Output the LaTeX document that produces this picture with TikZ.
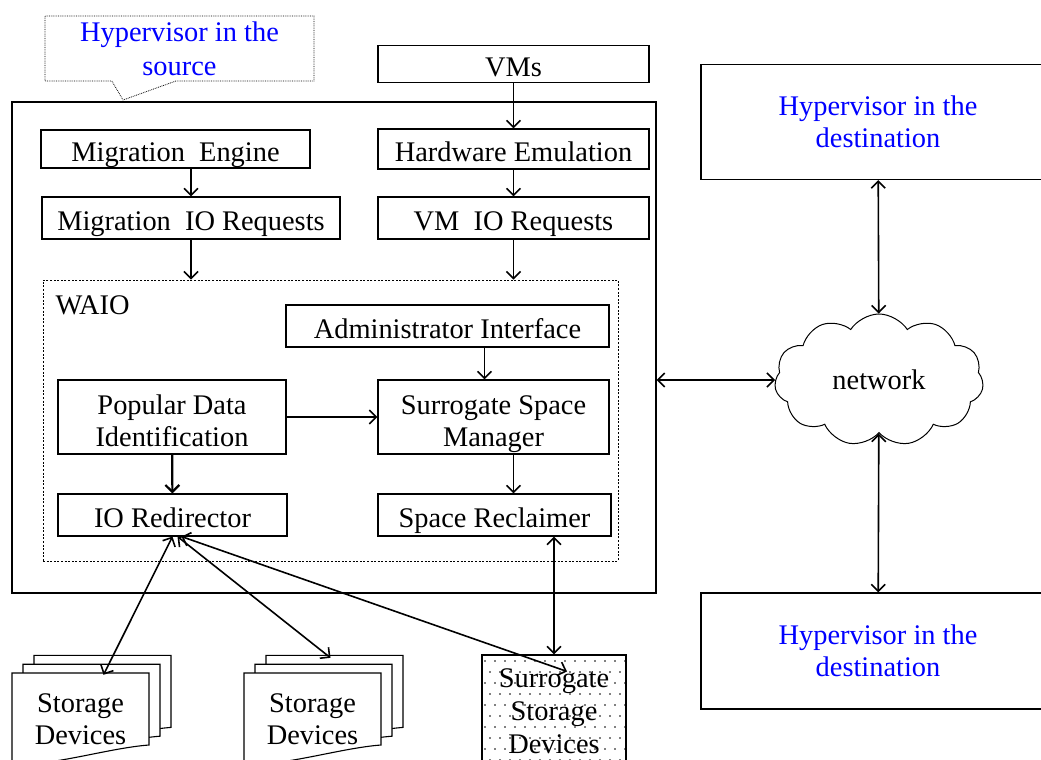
\documentclass[tikz,border=0pt]{standalone}
\usepackage{fontspec}
\setmainfont{Liberation Serif}
\usetikzlibrary{arrows.meta,shapes.symbols,shapes.callouts}

\begin{document}
\begin{tikzpicture}[x=1pt,y=-1pt,
	% Define styles for the boxes and the arrows
	box/.style={draw, line width=1.1pt, rectangle, inner sep=0pt, align=center, font=\fontsize{28.4}{32}\selectfont},
	onebox/.style={box, text height=25pt, text depth=0pt},
	twobox/.style={box, text height=58pt, text depth=0pt},
	bluebox/.style={box, text=blue},
	frame/.style={draw, line width=1.1pt, rectangle, inner sep=0pt},
	waioframe/.style={draw, line width=0.8pt, dash pattern=on 2pt off 1.6pt, rectangle, inner sep=0pt},
	page/.style={draw, fill=white, line width=1.1pt},
	arr/.style={-{Straight Barb[length=7pt,width=14pt]}, line width=1.6pt},
	dbl/.style={{Straight Barb[length=7pt,width=14pt]}-{Straight Barb[length=7pt,width=14pt]}, line width=1.6pt}
	]
	\useasboundingbox (0,0) rectangle (1041,760);
	
	% Frames of the source hypervisor and of WAIO
	\node[frame, minimum width=644, minimum height=491] (src) at (334,347.5) {};
	\node[waioframe, minimum width=575, minimum height=281] (waio) at (330.5,420.5) {};
	\node[anchor=west, font=\fontsize{28.4}{32}\selectfont] (waiolbl) at (52,305) {WAIO};
	
	% Callout above the source
	\node[rectangle callout, draw, densely dotted, line width=0.8pt, minimum width=269, minimum height=65,
	callout absolute pointer={(123,100)}, callout pointer width=64pt, align=center, text=blue,
	font=\fontsize{28.4}{33}\selectfont, text height=53pt, text depth=0pt] (srclbl) at (179.5,48.5) {Hypervisor in the\\source};
	
	% Boxes in the source
	\node[onebox, minimum width=271, minimum height=37] (vms) at (513.5,64) {VMs};
	\node[onebox, minimum width=269, minimum height=38] (me) at (175.5,149) {Migration~ Engine};
	\node[onebox, minimum width=271, minimum height=40] (hw) at (513.5,149) {Hardware Emulation};
	\node[onebox, minimum width=298, minimum height=42] (mio) at (191,218) {Migration~ IO Requests};
	\node[onebox, minimum width=271, minimum height=42] (vmio) at (513.5,218) {VM~ IO Requests};
	\node[onebox, minimum width=323, minimum height=42] (admin) at (447.5,326) {Administrator Interface};
	\node[twobox, minimum width=228, minimum height=74] (pdi) at (172,417) {Popular Data\\Identification};
	\node[twobox, minimum width=231, minimum height=74] (ssm) at (493.5,417) {Surrogate Space\\Manager};
	\node[onebox, minimum width=229, minimum height=42] (ior) at (172.5,515) {IO Redirector};
	\node[onebox, minimum width=233, minimum height=42] (sr) at (494.5,515) {Space Reclaimer};
	
	% Destinations and network
	\node[bluebox, minimum width=354, minimum height=115] (dtop) at (878,122) {Hypervisor in the\\destination};
	\node[bluebox, minimum width=354, minimum height=116] (dbot) at (878,651) {Hypervisor in the\\destination};
	\node[cloud, draw, line width=1pt, cloud puffs=11, cloud puff arc=115, aspect=1.6,
	minimum width=209, minimum height=132, font=\fontsize{28.4}{32}\selectfont] (net) at (879,380) {network};
	
	% Storage devices
	\foreach \sx in {0,232}
	\foreach \o in {22,11,0}
	\draw[page] (12+\sx+\o,673-0.8*\o) -- ++(137,0) -- ++(0,72)
	.. controls +(-40,3) and +(45,0) .. ++(-137,20) -- cycle;
	\node[align=center, minimum width=137, minimum height=88, inner sep=0pt,
	font=\fontsize{28.4}{32}\selectfont] (sd1) at (80.5,719) {Storage\\Devices};
	\node[align=center, minimum width=137, minimum height=88, inner sep=0pt,
	font=\fontsize{28.4}{32}\selectfont] (sd2) at (312.5,719) {Storage\\Devices};
	
	% Surrogate storage with dots
	\begin{scope}
		\clip (482,656) rectangle (626,770);
		\foreach \i in {0,...,14}
		\foreach \j in {0,...,10}
		\fill ({485+\i*10+mod(\j,2)*5}, {661+\j*11}) circle (0.9);
	\end{scope}
	\node[box, minimum width=144, minimum height=112, font=\fontsize{28.4}{33}\selectfont] (sur) at (554,711) {Surrogate\\Storage\\Devices};
	
	% --- Draw the edges ---
	\draw[arr] (vms) -- (hw);
	\draw[arr] (mio.north |- me.south) -- (mio.north);
	\draw[arr] (hw) -- (vmio);
	\draw[arr] (mio.south) -- (mio.south |- waio.north);
	\draw[arr] (vmio.south) -- (vmio.south |- waio.north);
	\draw[arr] ([xshift=-9]ssm.north |- admin.south) -- ([xshift=-9]ssm.north);
	\draw[arr] (pdi) -- (ssm);
	\draw[arr, line width=2.2pt] (pdi) -- (ior);
	\draw[arr] ([xshift=20]ssm.south) -- ([xshift=20]ssm.south |- sr.north);
	\draw[dbl] (ior.south) -- ([xshift=23]sd1.north);
	\draw[dbl] ([xshift=5]ior.south) -- ([shift={(18,-17)}]sd2.north);
	\draw[dbl] ([xshift=9]ior.south) -- ([shift={(13,17)}]sur.north);
	\draw[dbl] (sr.south -| sur.north) -- (sur.north);
	\draw[dbl] (src.east |- net.west) -- (net.west);
	\draw[dbl] (dtop) -- (net);
	\draw[dbl] (net) -- (dbot);
\end{tikzpicture}
\end{document}
